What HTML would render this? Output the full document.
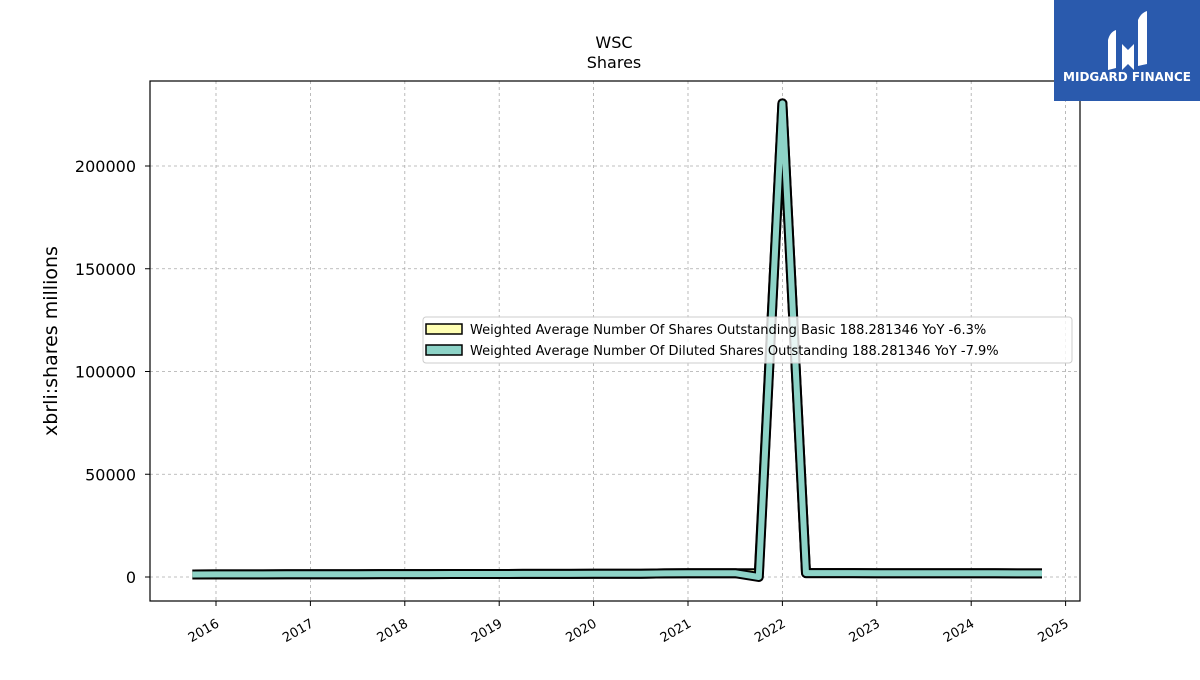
<!DOCTYPE html>
<html><head><meta charset="utf-8"><style>
body{margin:0;background:#fff;}
svg text{font-family:"DejaVu Sans","Liberation Sans",sans-serif;}
</style></head><body>
<svg width="1200" height="675" xmlns="http://www.w3.org/2000/svg">
<g id="grid"></g>
<g id="series"></g>
<rect x="150" y="81" width="930" height="520" fill="none" stroke="#000" stroke-width="1.2"/>
<g id="axes"></g>
<text x="614" y="48" font-size="16" text-anchor="middle">WSC</text>
<text x="614" y="68" font-size="16" text-anchor="middle">Shares</text>
<text transform="translate(57,341) rotate(-90)" font-size="19" text-anchor="middle">xbrli:shares millions</text>
<g>
<rect x="423" y="317" width="649" height="46" rx="3" fill="#fff" fill-opacity="0.8" stroke="#ccc"/>
<rect x="426" y="324" width="36" height="10" fill="#ffffb3" stroke="#000" stroke-width="1.5"/>
<text x="470" y="334" font-size="13">Weighted Average Number Of Shares Outstanding Basic  188.281346 YoY -6.3%</text>
<rect x="426" y="345" width="36" height="10" fill="#8dd3c7" stroke="#000" stroke-width="1.5"/>
<text x="470" y="355" font-size="13">Weighted Average Number Of Diluted Shares Outstanding  188.281346 YoY -7.9%</text>
</g>
<g>
<rect x="1054" y="0" width="146" height="101" fill="#2a5aad"/>
<path d="M1108 70 L1108 40 Q1110 32 1116 30 L1116 68 Z M1122 70 L1122 44 L1128 50 L1134 44 L1134 70 L1128 64 Z M1138 66 L1138 20 Q1141 13 1147 11 L1147 64 Z" fill="#fff"/>
<text x="1127" y="81" font-size="12" font-weight="bold" fill="#fff" text-anchor="middle">MIDGARD FINANCE</text>
</g>
<script>
var dates=[2015.75,2016,2016.25,2016.5,2016.75,2017,2017.25,2017.5,2017.75,2018,2018.25,2018.5,2018.75,2019,2019.25,2019.5,2019.75,2020,2020.25,2020.5,2020.75,2021,2021.25,2021.5,2021.75,2022,2022.25,2022.5,2022.75,2023,2023.25,2023.5,2023.75,2024,2024.25,2024.5,2024.75];
var basic=[1200,1250,1280,1300,1320,1340,1350,1360,1380,1400,1420,1440,1460,1480,1500,1520,1540,1560,1580,1600,1750,1800,1820,1850,1870,230500,1900,1880,1860,1850,1840,1830,1820,1810,1800,1790,1780];
var diluted=[1200,1250,1280,1300,1320,1340,1350,1360,1380,1400,1420,1440,1460,1480,1500,1520,1540,1560,1580,1600,1750,1800,1820,1850,0,230500,1900,1880,1860,1850,1840,1830,1820,1810,1800,1790,1780];
var yTicks=[0,50000,100000,150000,200000];
var xTicks=[2016,2017,2018,2019,2020,2021,2022,2023,2024,2025];
var NS='http://www.w3.org/2000/svg';
function X(d){return 216+(d-2016)*94.4;}
function Y(v){return 577-v*(411/200000);}
function mk(t,a,p){var e=document.createElementNS(NS,t);for(var k in a)e.setAttribute(k,a[k]);p.appendChild(e);return e;}
var grid=document.getElementById('grid'),axes=document.getElementById('axes'),ser=document.getElementById('series');
yTicks.forEach(function(v){
 var g=mk('line',{x1:150,x2:1080,y1:Y(v),y2:Y(v),stroke:'#aaa','stroke-dasharray':'3,3','stroke-width':0.8},grid);
 
 var t=mk('line',{x1:145,x2:150,y1:Y(v),y2:Y(v),stroke:'#000'},axes);
 
 var l=mk('text',{x:136,y:Y(v)+6,'font-size':16,'text-anchor':'end'},axes);l.textContent=v;
 
});
xTicks.forEach(function(d){
 var g=mk('line',{x1:X(d),x2:X(d),y1:81,y2:601,stroke:'#aaa','stroke-dasharray':'3,3','stroke-width':0.8},grid);
 
 var t=mk('line',{x1:X(d),x2:X(d),y1:601,y2:606,stroke:'#000'},axes);
 
 var l=mk('text',{transform:'translate('+(X(d)+4)+',626) rotate(-30)','font-size':13,'text-anchor':'end'},axes);l.textContent=d;
 
});
function pts(vals){return dates.map(function(d,i){return X(d)+','+Y(vals[i]);}).join(' ');}
[[basic,'#ffffb3','basic'],[diluted,'#8dd3c7','diluted']].forEach(function(s){
 var o=mk('polyline',{points:pts(s[0]),fill:'none',stroke:'#000','stroke-width':10,'stroke-linejoin':'round'},ser);
 
 var p=mk('polyline',{points:pts(s[0]),fill:'none',stroke:s[1],'stroke-width':6,'stroke-linejoin':'round'},ser);
 
});
</script>
</svg>
</body></html>
